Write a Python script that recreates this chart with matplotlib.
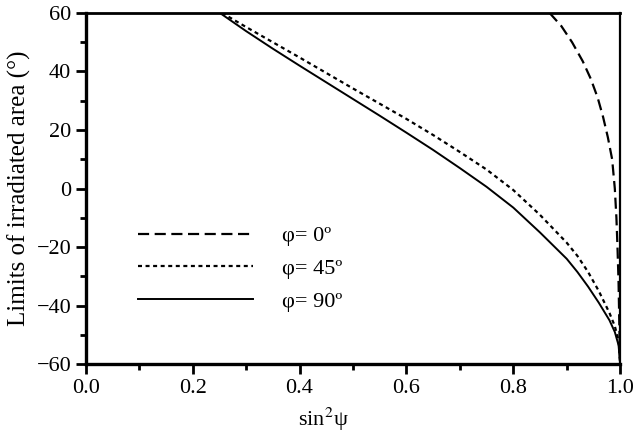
import matplotlib
matplotlib.use("Agg")
import matplotlib.pyplot as plt
from matplotlib.ticker import MultipleLocator

plt.rcParams["font.family"] = ["Liberation Serif", "DejaVu Serif"]
plt.rcParams["mathtext.fontset"] = "stix"

# phi = 0 deg (dashed)
x_phi0 = [0.868, 0.89, 0.91, 0.93, 0.945, 0.958, 0.968, 0.977, 0.985, 0.990,
          0.993, 0.995, 0.997, 0.998, 0.999, 1.0]
y_phi0 = [60, 55.5, 50, 43.5, 37.5, 31, 24.5, 17.5, 10, 0,
          -10, -20, -32, -42, -52, -60]

# phi = 45 deg (dotted)
x_phi45 = [0.255, 0.30, 0.35, 0.40, 0.45, 0.50, 0.55, 0.60, 0.65, 0.70, 0.75,
           0.80, 0.85, 0.90, 0.92, 0.94, 0.96, 0.98, 0.99, 0.997, 1.0]
y_phi45 = [60, 55.2, 50, 44.8, 39.5, 34.2, 29, 23.8, 18.3, 12.5, 6.5,
           -0.5, -9, -18.5, -23, -28.5, -35, -42.5, -47, -52, -60]

# phi = 90 deg (solid)
x_phi90 = [0.251, 0.30, 0.35, 0.40, 0.45, 0.50, 0.55, 0.60, 0.65, 0.70, 0.75,
           0.80, 0.85, 0.90, 0.92, 0.94, 0.96, 0.98, 0.99, 0.997, 1.0]
y_phi90 = [60, 53.8, 47.8, 42.0, 36.3, 30.6, 24.9, 19.1, 13.2, 7.0, 0.6,
           -6.5, -15, -24, -28.5, -33.5, -39, -45, -49, -53.5, -60]

labels = ["\u03c6= 0\u00ba", "\u03c6= 45\u00ba", "\u03c6= 90\u00ba"]

fig = plt.figure(figsize=(6.4, 4.32), dpi=100)
ax = fig.add_axes([0.134, 0.157, 0.835, 0.813])

ax.plot(x_phi0, y_phi0, color="black", lw=1.6, dashes=(5, 2.5), label=labels[0])
ax.plot(x_phi45, y_phi45, color="black", lw=1.6, dashes=(1.8, 1.6), label=labels[1])
ax.plot(x_phi90, y_phi90, color="black", lw=1.4, label=labels[2])

ax.set_xlim(0, 1.0)
ax.set_ylim(-60, 60)
ax.xaxis.set_major_locator(MultipleLocator(0.2))
ax.xaxis.set_minor_locator(MultipleLocator(0.1))
ax.yaxis.set_major_locator(MultipleLocator(20))
ax.yaxis.set_minor_locator(MultipleLocator(10))
ax.xaxis.set_major_formatter(plt.FuncFormatter(lambda v, p: f"{v:.1f}"))
ax.tick_params(which="major", direction="out", length=7, width=2, labelsize=16)
ax.tick_params(which="minor", direction="out", length=4, width=2)
ax.tick_params(top=False, right=False)

for side, w in (("left", 2.4), ("bottom", 2.4), ("top", 2.0), ("right", 1.6)):
    ax.spines[side].set_linewidth(w)

ax.set_xlabel("sin$^{2}$\u03c8", fontsize=16)
ax.xaxis.set_label_coords(0.444, -0.118)
ax.set_ylabel("Limits of irradiated area (\u00b0)", fontsize=18, labelpad=4)

ax.legend(loc="center left", bbox_to_anchor=(0.097, 0.271), frameon=False,
          fontsize=16, handlelength=5.2, handletextpad=1.3, labelspacing=0.55,
          borderpad=0, borderaxespad=0)

fig.savefig("out.png", dpi=100)
